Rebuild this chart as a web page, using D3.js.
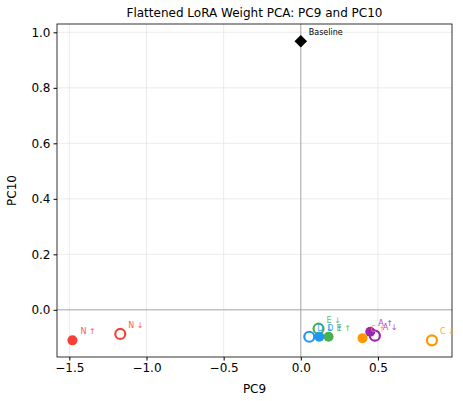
<!DOCTYPE html>
<html><head><meta charset="utf-8">
<script src="https://cdn.jsdelivr.net/npm/d3@7"></script>
<style>body{margin:0;background:#fff;font-family:"DejaVu Sans",sans-serif}</style>
</head><body><div id="chart"></div>
<script>
// points: label, pc9, pc10, color, filled
const labels = ["N ↑", "N ↓", "E ↓", "E ↑", "D ↓", "D ↑", "A ↑", "A ↓", "C ↑", "C ↓"];
const pc9 = [-1.48, -1.17, 0.115, 0.18, 0.055, 0.12, 0.45, 0.48, 0.40, 0.85];
const pc10 = [-0.11, -0.087, -0.068, -0.097, -0.097, -0.097, -0.079, -0.093, -0.102, -0.11];
const colors = ["#f44336", "#f44336", "#4caf50", "#4caf50", "#2196f3", "#2196f3", "#9c27b0", "#9c27b0", "#ff9800", "#ff9800"];
const filled = [true, false, false, true, false, true, true, false, true, false];
const baseline = { x: 0, y: 0.968 };
const xTicks = [-1.5, -1.0, -0.5, 0.0, 0.5];
const yTicks = [0.0, 0.2, 0.4, 0.6, 0.8, 1.0];

const W = 463, H = 401, m = { l: 57, r: 11, t: 24, b: 44 };
const svg = d3.select("#chart").append("svg").attr("width", W).attr("height", H);
const x = d3.scaleLinear().domain([-1.58, 0.98]).range([m.l, W - m.r]);
const y = d3.scaleLinear().domain([-0.17, 1.03]).range([H - m.b, m.t]);

// grid
svg.append("g").selectAll("line").data(xTicks).join("line")
  .attr("x1", d => x(d)).attr("x2", d => x(d)).attr("y1", m.t).attr("y2", H - m.b)
  .attr("stroke", "#e6e6e6").attr("stroke-width", 0.8);
svg.append("g").selectAll("line").data(yTicks).join("line")
  .attr("y1", d => y(d)).attr("y2", d => y(d)).attr("x1", m.l).attr("x2", W - m.r)
  .attr("stroke", "#e6e6e6").attr("stroke-width", 0.8);
// zero lines
svg.append("line").attr("x1", x(0)).attr("x2", x(0)).attr("y1", m.t).attr("y2", H - m.b).attr("stroke", "#999").attr("stroke-width", 0.8);
svg.append("line").attr("y1", y(0)).attr("y2", y(0)).attr("x1", m.l).attr("x2", W - m.r).attr("stroke", "#999").attr("stroke-width", 0.8);

const xa = svg.append("g").attr("transform", `translate(0,${H - m.b})`)
  .call(d3.axisBottom(x).tickValues(xTicks).tickFormat(d3.format(".1f")).tickSize(3.5).tickPadding(3));
const ya = svg.append("g").attr("transform", `translate(${m.l},0)`)
  .call(d3.axisLeft(y).tickValues(yTicks).tickFormat(d3.format(".1f")).tickSize(3.5).tickPadding(3));
[xa, ya].forEach(a => { a.selectAll("text").attr("font-size", 12).attr("fill", "#000").attr("font-family", "DejaVu Sans"); a.select(".domain").remove(); });
svg.append("rect").attr("x", m.l).attr("y", m.t).attr("width", W - m.r - m.l).attr("height", H - m.b - m.t)
  .attr("fill", "none").attr("stroke", "#000").attr("stroke-width", 0.8);

svg.append("text").attr("x", (m.l + W - m.r) / 2).attr("y", 17).attr("text-anchor", "middle").attr("font-size", 12).text("Flattened LoRA Weight PCA: PC9 and PC10");
svg.append("text").attr("x", (m.l + W - m.r) / 2).attr("y", H - 8).attr("text-anchor", "middle").attr("font-size", 12).text("PC9");
svg.append("text").attr("transform", `translate(16,${(m.t + H - m.b) / 2}) rotate(-90)`).attr("text-anchor", "middle").attr("font-size", 12).text("PC10");

// baseline
svg.append("path").attr("d", d3.symbol(d3.symbolDiamond2 ? d3.symbolSquare : d3.symbolSquare, 80)())
  .attr("transform", `translate(${x(baseline.x)},${y(baseline.y)}) rotate(45)`).attr("fill", "#000");
svg.append("text").attr("x", x(baseline.x) + 8).attr("y", y(baseline.y) - 6).attr("font-size", 8).text("Baseline");

const idx = d3.range(labels.length);
svg.append("g").selectAll("circle").data(idx).join("circle")
  .attr("cx", i => x(pc9[i])).attr("cy", i => y(pc10[i]))
  .attr("r", i => filled[i] ? 5 : 5)
  .attr("fill", i => filled[i] ? colors[i] : "none")
  .attr("stroke", i => colors[i]).attr("stroke-width", i => filled[i] ? 0 : 2.2);
svg.append("g").selectAll("text").data(idx).join("text")
  .attr("x", i => x(pc9[i]) + 8).attr("y", i => y(pc10[i]) - 6)
  .attr("font-size", 8).attr("fill", i => colors[i]).attr("opacity", 0.85).text(i => labels[i]);
</script></body></html>
